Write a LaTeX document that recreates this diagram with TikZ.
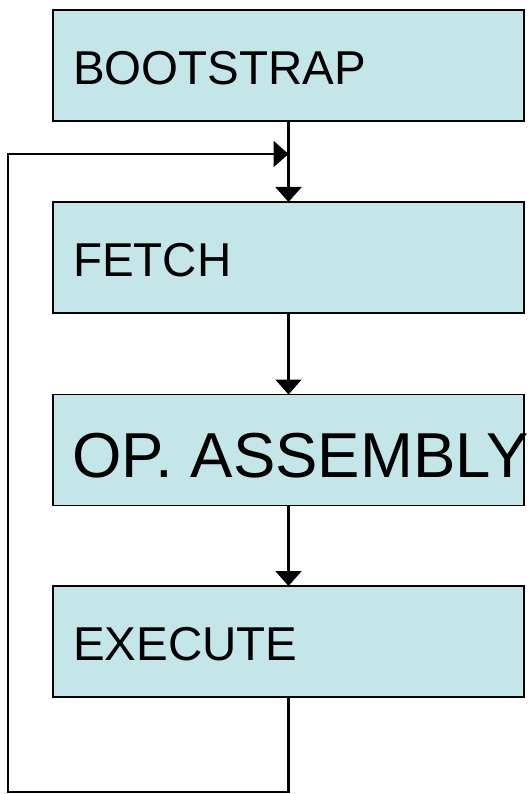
\documentclass[tikz,border=0pt]{standalone}
\usepackage{fontspec}
\setmainfont{Liberation Sans}
\usetikzlibrary{arrows.meta}
\definecolor{boxfill}{RGB}{196,230,232}
\begin{document}
\begin{tikzpicture}[x=1pt,y=-1pt,
  stagebox/.style={draw=black,line width=1.8pt,fill=boxfill,minimum width=471pt,minimum height=111pt,inner sep=0pt,outer sep=0pt},
  stagetext/.style={anchor=base west,inner sep=0pt,outer sep=0pt,font=\fontsize{47.5}{50}\selectfont},
  bigtext/.style={anchor=base west,inner sep=0pt,outer sep=0pt,font=\fontsize{63.5}{66}\selectfont},
  arr/.style={line width=2.2pt,-{Triangle[length=15pt,width=26pt]}},
  loopline/.style={line width=2.2pt}]
\useasboundingbox (0,0) rectangle (529,794);
\node[stagebox] (b1) at (288.5,65.5) {};
\node[stagebox] (b2) at (288.5,257.5) {};
\node[stagebox] (b3) at (288.5,450) {};
\node[stagebox] (b4) at (288.5,641.5) {};
\node[stagetext] (t1) at (73,85) {BOOTSTRAP};
\node[stagetext] (t2) at (73,276) {FETCH};
\node[bigtext] (t3) at (72,477) {OP. ASSEMBLY};
\node[stagetext] (t4) at (73,660) {EXECUTE};
\draw[arr] (b1.south) -- (b2.north);
\draw[arr] (b2.south) -- (b3.north);
\draw[arr] (b3.south) -- (b4.north);
\coordinate (c1) at (288.5,792);
\coordinate (c2) at (8,792);
\coordinate (c3) at (8,154);
\coordinate (j) at (288.5,154);
\draw[loopline] (b4.south) -- (c1) -- (c2) -- (c3) -- (j);
\draw[arr] (c3) -- (j);
\end{tikzpicture}
\end{document}
